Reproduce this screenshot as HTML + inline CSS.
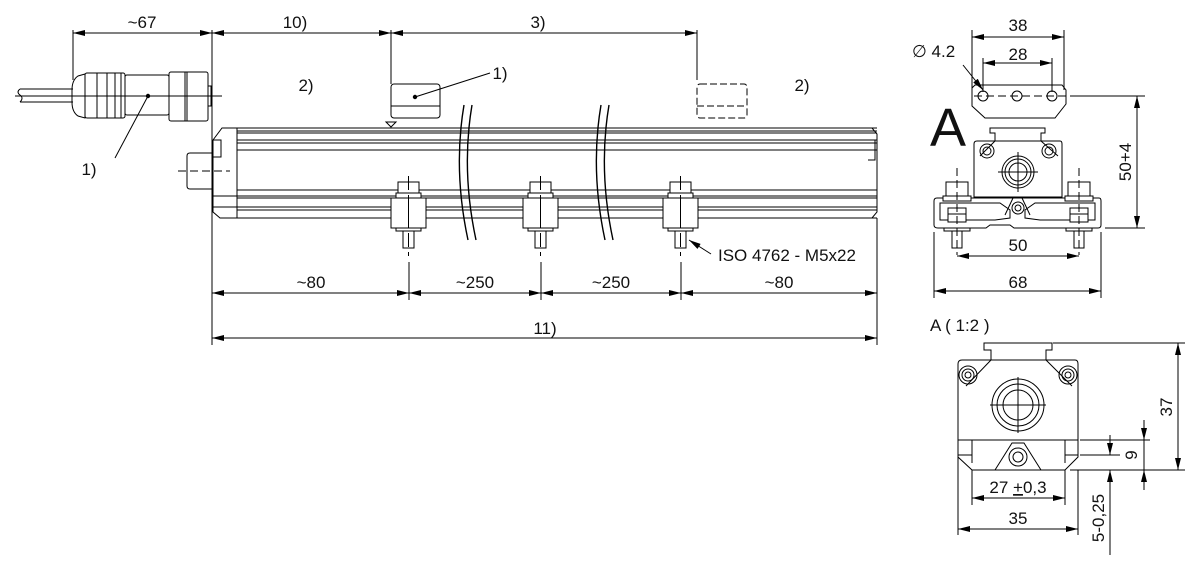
<!DOCTYPE html>
<html><head><meta charset="utf-8"><style>
html,body{margin:0;padding:0;background:#fff}
svg{display:block}
text{font-family:"Liberation Sans",sans-serif;fill:#111}
</style></head><body>
<svg width="1200" height="573" viewBox="0 0 1200 573" xmlns="http://www.w3.org/2000/svg">
<defs>
<marker id="a" viewBox="0 0 12 6" refX="12" refY="3" markerWidth="12" markerHeight="6" orient="auto-start-reverse" markerUnits="userSpaceOnUse"><path d="M0,0 L12,3 L0,6z" fill="#000"/></marker>
</defs>
<g stroke="#000" stroke-width="1" fill="none">
<line x1="73" y1="30" x2="73" y2="80"/>
<line x1="212" y1="30" x2="212" y2="345"/>
<line x1="391" y1="30" x2="391" y2="84"/>
<line x1="697" y1="30" x2="697" y2="80"/>
<line x1="73" y1="33" x2="212" y2="33" marker-start="url(#a)" marker-end="url(#a)"/>
<line x1="212" y1="33" x2="391" y2="33" marker-start="url(#a)" marker-end="url(#a)"/>
<line x1="391" y1="33" x2="697" y2="33" marker-start="url(#a)" marker-end="url(#a)"/>
<path d="M20,89 H73 M20,102 H73"/>
<path d="M20,89 q-4,3 0,6 q4,3 0,7"/>
<line x1="15" y1="96" x2="222" y2="96"/>
<path d="M85,74 L78,76 Q72,80 72,90 V102 Q72,112 78,116 L85,118 Z"/>
<rect x="85" y="73" width="40" height="45" rx="2"/>
<line x1="97" y1="73" x2="97" y2="118"/><line x1="107" y1="73" x2="107" y2="118"/><line x1="115" y1="73" x2="115" y2="118"/><line x1="121" y1="73" x2="121" y2="118"/>
<rect x="125" y="75" width="44" height="40" rx="2"/>
<rect x="169" y="72" width="39" height="49" rx="2"/>
<line x1="185" y1="72" x2="185" y2="121"/><line x1="187" y1="72" x2="187" y2="121"/>
<rect x="208" y="86" width="3" height="20"/>
<line x1="148" y1="96" x2="115" y2="158"/>
<rect x="391" y="84" width="49" height="34" rx="3"/>
<line x1="391" y1="106" x2="440" y2="106"/>
<line x1="415" y1="97" x2="490" y2="73"/>
<path d="M386,122 L396,122 L391,127 Z"/>
<rect x="697" y="84" width="50" height="34" rx="3" stroke-dasharray="7,3"/>
<line x1="697" y1="106" x2="747" y2="106" stroke-dasharray="7,3"/>
<path d="M237,128 H877 M237,131 H877 M237,133 H877 M237,140 H877 M237,143 H877 M237,150 H877 M237,190 H877 M237,196 H877 M237,198 H877 M237,207 H877 M237,210 H877 M237,218 H877"/>
<line x1="237" y1="128" x2="237" y2="218"/>
<path d="M237,128 H222 L213,140 V212 L220,218 H237"/>
<path d="M213,140 H221 V157 H213 M213,196 H237 M213,207 H237"/>
<path d="M213,153 H190 Q187,153 187,156 V186 Q187,189 190,189 H213"/>
<path d="M178,171 H230" stroke-dasharray="8,4"/>
<path d="M865,128 H872 L877,134 V212 L872,218 H865 M868,140 H875 V160 H868"/>
<path d="M464,105 Q453,170 468,240 M472,105 Q461,170 476,240" stroke-width="1.4"/>
<path d="M601,105 Q590,170 605,240 M609,105 Q598,170 613,240" stroke-width="1.4"/>
</g>
<g stroke="#000" fill="#fff">
<g id="c">
<rect x="398" y="182" width="21" height="11"/>
<rect x="396" y="193" width="25" height="5"/>
<rect x="391" y="198" width="35" height="30"/>
<rect x="396" y="228" width="25" height="3"/>
<rect x="403" y="231" width="11" height="17"/>
<line x1="408.5" y1="176" x2="408.5" y2="256" stroke-dasharray="14,5"/>
<line x1="408.5" y1="208" x2="408.5" y2="218"/>
</g>
<use href="#c" x="132"/>
<use href="#c" x="272"/>
</g>
<g stroke="#000" fill="none">
<line x1="711" y1="254" x2="689" y2="240" marker-end="url(#a)"/>
<line x1="409" y1="262" x2="409" y2="300"/><line x1="541" y1="262" x2="541" y2="300"/><line x1="681" y1="262" x2="681" y2="300"/>
<line x1="877" y1="218" x2="877" y2="345"/>
<line x1="212" y1="293" x2="409" y2="293" marker-start="url(#a)" marker-end="url(#a)"/>
<line x1="409" y1="293" x2="541" y2="293" marker-start="url(#a)" marker-end="url(#a)"/>
<line x1="541" y1="293" x2="681" y2="293" marker-start="url(#a)" marker-end="url(#a)"/>
<line x1="681" y1="293" x2="877" y2="293" marker-start="url(#a)" marker-end="url(#a)"/>
<line x1="212" y1="338" x2="877" y2="338" marker-start="url(#a)" marker-end="url(#a)"/>
<line x1="972" y1="30" x2="972" y2="90"/><line x1="1064" y1="30" x2="1064" y2="90"/>
<line x1="983" y1="58" x2="983" y2="92"/><line x1="1052" y1="58" x2="1052" y2="92"/>
<line x1="972" y1="37" x2="1064" y2="37" marker-start="url(#a)" marker-end="url(#a)"/>
<line x1="983" y1="63" x2="1052" y2="63" marker-start="url(#a)" marker-end="url(#a)"/>
<line x1="963" y1="65" x2="983" y2="90" marker-end="url(#a)"/>
<path d="M975,85 H1062 L1066,90 V104 L1055,118 H985 L972,106 V88 Z"/>
<circle cx="983" cy="96" r="5"/><circle cx="1017" cy="96" r="5"/><circle cx="1052" cy="96" r="5"/>
<line x1="974" y1="96" x2="1072" y2="96" stroke-dasharray="8,4"/>
<line x1="1070" y1="96" x2="1145" y2="96"/>
<line x1="1105" y1="228" x2="1145" y2="228"/>
<line x1="1137" y1="96" x2="1137" y2="228" marker-start="url(#a)" marker-end="url(#a)"/>
<path d="M990,128 H1045 V133 L1041,133 V141 H995 V133 H990 Z"/>
<path d="M977,141 H1060 Q1062,141 1062,144 V197 H974 V144 Q974,141 977,141 Z"/>
<path d="M995,141 L980,156 M1041,141 L1058,156"/>
<circle cx="987" cy="151" r="7"/><circle cx="987" cy="151" r="4"/>
<circle cx="1049" cy="151" r="7"/><circle cx="1049" cy="151" r="4"/>
<circle cx="1018" cy="172" r="16"/><circle cx="1018" cy="172" r="13"/><circle cx="1018" cy="172" r="9"/>
<line x1="998" y1="172" x2="1038" y2="172"/><line x1="1018" y1="152" x2="1018" y2="192"/>
<path d="M937,198 H1099 Q1101,198 1101,201 V225 Q1101,228 1098,228 H1014 L1010,225 H990 L986,228 H938 Q934,228 934,225 V201 Q934,198 937,198 Z"/>
<path d="M940,203 H1000 L1010,210 V218 L995,220 H940 Z M1095,203 H1035 L1025,210 V218 L1040,220 H1095 Z"/>
<path d="M1005,215 L1013,198 M1030,215 L1022,198"/>
<circle cx="1018" cy="208" r="6"/><circle cx="1018" cy="208" r="3"/>
<g fill="#fff">
<rect x="946" y="182" width="22" height="14"/><rect x="943" y="196" width="28" height="5"/>
<rect x="948" y="208" width="18" height="6"/><rect x="948" y="214" width="18" height="8"/>
<rect x="944" y="228" width="26" height="3"/><rect x="952" y="231" width="10" height="17"/>
<rect x="1068" y="182" width="22" height="14"/><rect x="1065" y="196" width="28" height="5"/>
<rect x="1070" y="208" width="18" height="6"/><rect x="1070" y="214" width="18" height="8"/>
<rect x="1066" y="228" width="26" height="3"/><rect x="1074" y="231" width="10" height="17"/>
</g>
<line x1="957" y1="168" x2="957" y2="255" stroke-dasharray="8,4"/>
<line x1="1079" y1="168" x2="1079" y2="255" stroke-dasharray="8,4"/>
<line x1="934" y1="232" x2="934" y2="298"/><line x1="1101" y1="232" x2="1101" y2="298"/>
<line x1="957" y1="256" x2="1079" y2="256" marker-start="url(#a)" marker-end="url(#a)"/>
<line x1="934" y1="291" x2="1101" y2="291" marker-start="url(#a)" marker-end="url(#a)"/>
<path d="M984,343 H1052 V350 L1046,350 V360 H991 V350 H984 Z"/>
<path d="M962,360 H1075 Q1078,360 1078,364 V440 H958 V364 Q958,360 962,360 Z"/>
<path d="M991,360 L966,386 M1046,360 L1072,386"/>
<circle cx="968" cy="375" r="9"/><circle cx="968" cy="375" r="6"/><circle cx="968" cy="375" r="3"/>
<circle cx="1068" cy="375" r="9"/><circle cx="1068" cy="375" r="6"/><circle cx="1068" cy="375" r="3"/>
<circle cx="1018" cy="405" r="26"/><circle cx="1018" cy="405" r="21"/><circle cx="1018" cy="405" r="15"/>
<line x1="990" y1="405" x2="1046" y2="405"/><line x1="1018" y1="377" x2="1018" y2="433"/>
<path d="M958,440 V457 L972,470 H1065 L1078,457 V440"/>
<path d="M972,440 V463 M1065,440 V463 M958,455 H972 M1065,455 H1078"/>
<path d="M995,470 L1012,443 H1024 L1041,470"/>
<circle cx="1018" cy="457" r="9"/><circle cx="1018" cy="457" r="5"/>
<line x1="1053" y1="343" x2="1185" y2="343"/>
<line x1="1070" y1="470" x2="1185" y2="470"/>
<line x1="1080" y1="440" x2="1150" y2="440"/>
<line x1="1080" y1="455" x2="1120" y2="455"/>
<line x1="1178" y1="343" x2="1178" y2="470" marker-start="url(#a)" marker-end="url(#a)"/>
<line x1="1144" y1="420" x2="1144" y2="440" marker-end="url(#a)"/>
<line x1="1144" y1="490" x2="1144" y2="470" marker-end="url(#a)"/>
<line x1="1144" y1="440" x2="1144" y2="470"/>
<line x1="1110" y1="435" x2="1110" y2="455" marker-end="url(#a)"/>
<line x1="1110" y1="555" x2="1110" y2="470" marker-end="url(#a)"/>
<line x1="972" y1="470" x2="972" y2="505"/><line x1="1065" y1="470" x2="1065" y2="505"/>
<line x1="958" y1="440" x2="958" y2="535"/><line x1="1078" y1="470" x2="1078" y2="535"/>
<line x1="972" y1="498" x2="1065" y2="498" marker-start="url(#a)" marker-end="url(#a)"/>
<line x1="958" y1="529" x2="1078" y2="529" marker-start="url(#a)" marker-end="url(#a)"/>
</g>
<g fill="#000">
<circle cx="148" cy="96" r="2.2"/><circle cx="415" cy="97" r="2.2"/>
</g>
<g font-size="17">
<text x="142" y="28" text-anchor="middle">~67</text>
<text x="295" y="28" text-anchor="middle">10)</text>
<text x="538" y="28" text-anchor="middle">3)</text>
<text x="306" y="91" text-anchor="middle">2)</text>
<text x="89" y="175" text-anchor="middle">1)</text>
<text x="500" y="79" text-anchor="middle">1)</text>
<text x="802" y="91" text-anchor="middle">2)</text>
<text x="718" y="261">ISO 4762 - M5x22</text>
<text x="311" y="288" text-anchor="middle">~80</text>
<text x="475" y="288" text-anchor="middle">~250</text>
<text x="611" y="288" text-anchor="middle">~250</text>
<text x="779" y="288" text-anchor="middle">~80</text>
<text x="545" y="334" text-anchor="middle">11)</text>
<text x="1018" y="31" text-anchor="middle">38</text>
<text x="1018" y="60" text-anchor="middle">28</text>
<text x="912" y="57">∅ 4.2</text>
<text x="1018" y="251" text-anchor="middle">50</text>
<text x="1018" y="288" text-anchor="middle">68</text>
<text transform="translate(1131,162) rotate(-90)" text-anchor="middle">50+4</text>
<text x="930" y="331">A  ( 1:2 )</text>
<text transform="translate(1172,407) rotate(-90)" text-anchor="middle">37</text>
<text transform="translate(1137,455) rotate(-90)" text-anchor="middle">9</text>
<text transform="translate(1104,518) rotate(-90)" text-anchor="middle">5-0,25</text>
<text x="1018" y="493" text-anchor="middle">27 <tspan text-decoration="underline">+</tspan>0,3</text>
<text x="1018" y="524" text-anchor="middle">35</text>
</g>
<text x="930" y="146" font-size="54">A</text>
</svg>
</body></html>
